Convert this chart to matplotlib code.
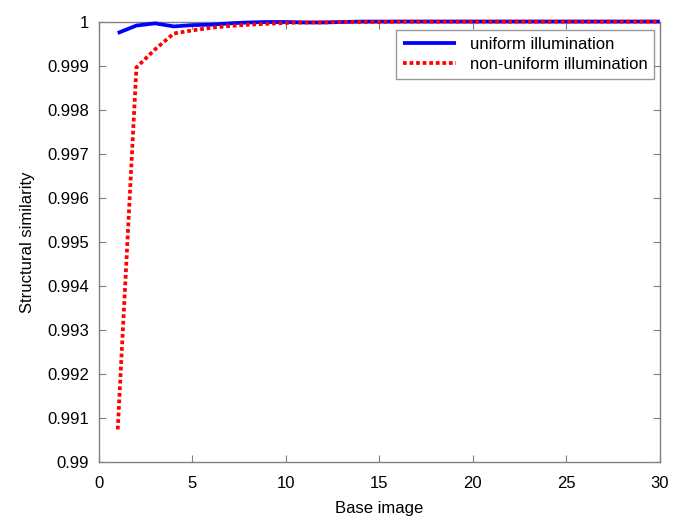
import matplotlib.pyplot as plt

plt.rcParams['font.family'] = ['Liberation Sans', 'DejaVu Sans']

base_image = list(range(1, 31))
uniform = [0.99974, 0.99991, 0.99996, 0.99989, 0.99992, 0.99993, 0.99996, 0.99998,
           0.99999, 0.99999, 0.99998, 0.99998, 0.99999, 1.0, 1.0, 1.0, 1.0, 1.0,
           1.0, 1.0, 1.0, 1.0, 1.0, 1.0, 1.0, 1.0, 1.0, 1.0, 1.0, 1.0]
non_uniform = [0.99074, 0.99896, 0.99937, 0.99973, 0.99980, 0.99986, 0.99990, 0.99993,
               0.99995, 0.99997, 0.99998, 0.99998, 0.99999, 0.99999, 0.99999, 1.0, 1.0,
               1.0, 1.0, 1.0, 1.0, 1.0, 1.0, 1.0, 1.0, 1.0, 1.0, 1.0, 1.0, 1.0]

fig = plt.figure(figsize=(6.83, 5.2), dpi=100)
ax = fig.add_axes([0.145, 0.1115, 0.821, 0.847])

for sp in ax.spines.values():
    sp.set_color('#808080')
    sp.set_linewidth(1.0)
    sp.set_zorder(1)

ax.plot(base_image, uniform, color='#0000ff', lw=2.7, label='uniform illumination',
        solid_capstyle='butt', clip_on=False, zorder=3)
ax.plot(base_image, non_uniform, color='#ff0000', lw=2.7, linestyle=(0, (1.0, 0.75)),
        label='non-uniform illumination', clip_on=False, zorder=4)

ax.set_xlim(0, 30)
ax.set_ylim(0.99, 1.0)
ax.set_xticks([0, 5, 10, 15, 20, 25, 30])
ax.set_yticks([0.99 + 0.001 * i for i in range(11)])
ax.set_yticklabels(['0.99', '0.991', '0.992', '0.993', '0.994', '0.995', '0.996',
                    '0.997', '0.998', '0.999', '1'])
ax.tick_params(direction='in', length=5, width=0.8, colors='#808080',
               labelcolor='black', labelsize=12, top=True, right=True)
ax.tick_params(axis='x', pad=10)
ax.tick_params(axis='y', pad=7)

ax.set_xlabel('Base image', fontsize=12, labelpad=7)
ax.set_ylabel('Structural similarity', fontsize=12, labelpad=9)

leg = ax.legend(loc='upper right', fontsize=12, frameon=True, fancybox=False,
                handlelength=3.2, borderpad=0.4, labelspacing=0.3,
                bbox_to_anchor=(0.99, 0.98), borderaxespad=0.0)
leg.get_frame().set_edgecolor('#808080')
leg.get_frame().set_linewidth(1.0)
leg.set_zorder(5)

fig.savefig('out.png', dpi=100)
